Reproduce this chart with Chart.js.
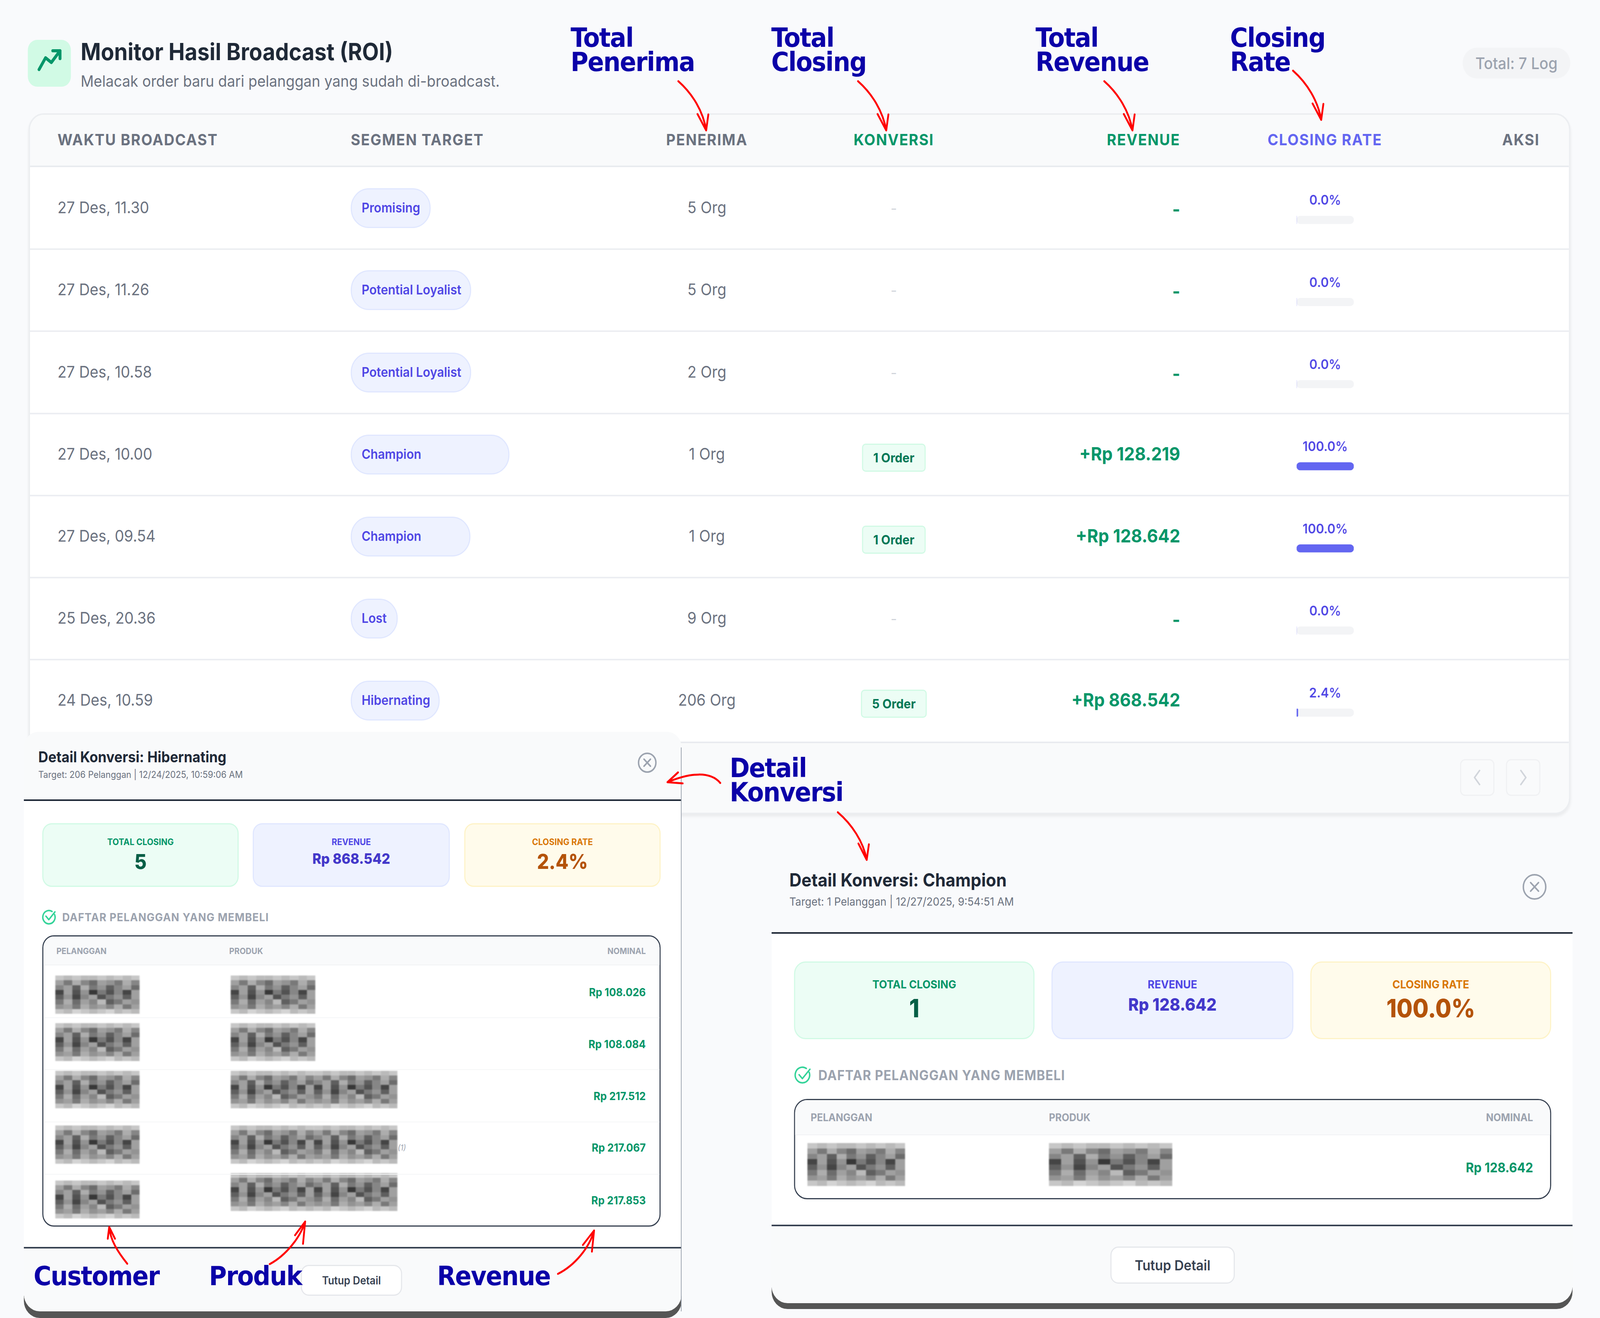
<!DOCTYPE html>
<html lang="id">
<head>
<meta charset="utf-8">
<title>Monitor Hasil Broadcast (ROI)</title>
<script src="https://cdn.jsdelivr.net/npm/chart.js@4/dist/chart.umd.min.js"></script>
<style>
  html, body { margin: 0; padding: 0; overflow: hidden; background: #f9fafc; }
  #page { position: absolute; left: 0; top: 0; width: 4425px; height: 3375px; overflow: hidden; background: #f9fafc; font-family: Inter, sans-serif; transform-origin: 0 0; }
  .box { position: absolute; box-sizing: border-box; }
  .txt { position: absolute; white-space: nowrap; line-height: 1; }
  .note { position: absolute; white-space: pre; font-family: "DejaVu Sans", sans-serif; font-weight: 700; color: #0b00a8; font-size: 67px; line-height: 62px; letter-spacing: -2px; z-index: 30; }
  .mosaic { position: absolute; display: grid; filter: blur(1.5px); }
  #rateWrap { position: absolute; left: 3586px; top: 458px; width: 158px; height: 1472px; z-index: 5; }
  svg { position: absolute; left: 0; top: 0; z-index: 40; pointer-events: none; }
</style>
</head>
<body>
<div id="page"><div id="rateWrap"><canvas id="rateChart" width="158" height="1472"></canvas></div></div>
<script>
// data tabel utama
const waktu = ['27 Des, 11.30', '27 Des, 11.26', '27 Des, 10.58', '27 Des, 10.00', '27 Des, 09.54', '25 Des, 20.36', '24 Des, 10.59'];
const segmen = ['Promising', 'Potential Loyalist', 'Potential Loyalist', 'Champion', 'Champion', 'Lost', 'Hibernating'];
const penerima = [5, 5, 2, 1, 1, 9, 206];
const konversi = [0, 0, 0, 1, 1, 0, 5];
const revenue = ['-', '-', '-', '+Rp 128.219', '+Rp 128.642', '-', '+Rp 868.542'];
const closingRate = [0, 0, 0, 100, 100, 0, 2.4];
const closingTrack = [100, 100, 100, 100, 100, 100, 100];
const kolom = ['WAKTU BROADCAST', 'SEGMEN TARGET', 'PENERIMA', 'KONVERSI', 'REVENUE', 'CLOSING RATE', 'AKSI'];

// data detail konversi
const nominalHibernating = ['Rp 108.026', 'Rp 108.084', 'Rp 217.512', 'Rp 217.067', 'Rp 217.853'];
const nominalChampion = ['Rp 128.642'];

const pillWidth = [221, 333, 333, 439, 331, 130, 246];

// jendela render bisa lebih kecil dari 4425, jadi halaman diskalakan biar tetap pas
const page = document.getElementById('page');
page.style.transform = `scale(${window.innerWidth / 4425},${window.innerHeight / 3375})`;

function box(x, y, w, h, css, z) {
  const el = document.createElement('div');
  el.className = 'box';
  el.style.cssText = `left:${x}px;top:${y}px;width:${w}px;height:${h}px;z-index:${z || 1};${css || ''}`;
  page.appendChild(el);
  return el;
}

// y = tengah teks, align: l / c / r terhadap x
function text(str, x, y, size, weight, color, align, z, extra) {
  const el = document.createElement('div');
  el.className = 'txt';
  el.textContent = str;
  const tx = align === 'c' ? '-50%' : align === 'r' ? '-100%' : '0';
  el.style.cssText = `left:${x}px;top:${y}px;font-size:${size}px;font-weight:${weight};color:${color};transform:translate(${tx},-50%);z-index:${z || 2};${extra || ''}`;
  page.appendChild(el);
  return el;
}

function note(str, x, y) {
  const el = document.createElement('div');
  el.className = 'note';
  el.textContent = str;
  el.style.left = x + 'px';
  el.style.top = y + 'px';
  page.appendChild(el);
}

// blok sensor, cuma hiasan
const pola = [
  'dcdccdcdcd',
  'a7b86a97b8',
  '8a5b7958a6',
  '3a4927483a',
  '5938a4795a',
  '7b6a8c57a9',
  '9a7b9a8b7a',
  'dcedcdecdc'
];
function mosaic(x, y, w, h, z, dobel) {
  const cols = dobel ? 20 : 10;
  const el = document.createElement('div');
  el.className = 'mosaic';
  el.style.cssText = `left:${x}px;top:${y}px;width:${w}px;height:${h}px;z-index:${z};grid-template-columns:repeat(${cols},1fr);grid-template-rows:repeat(8,1fr);`;
  pola.forEach(baris => {
    const isi = dobel ? baris + baris : baris;
    for (const c of isi) {
      const g = 30 + parseInt(c, 16) * 13;
      const cell = document.createElement('div');
      cell.style.background = `rgb(${g},${g},${g})`;
      el.appendChild(cell);
    }
  });
  page.appendChild(el);
}

// header halaman
box(77, 102, 119, 120, 'background:#d1fae5;border-radius:26px;');
text('Monitor Hasil Broadcast (ROI)', 223, 132, 60, 700, '#1f2937', 'l');
text('Melacak order baru dari pelanggan yang sudah di-broadcast.', 223, 208, 40, 400, '#6b7280', 'l');
box(4045, 122, 298, 79, 'background:#f3f4f6;border-radius:40px;');
text('Total: 7 Log', 4194, 162, 41, 500, '#9ca3af', 'c');

// kartu tabel
box(79, 290, 4264, 1795, 'background:#fff;border:4px solid #eceef1;border-radius:42px;box-shadow:0 6px 8px rgba(0,0,0,.06);');
box(83, 294, 4256, 134, 'background:#f9fafb;border-bottom:4px solid #e9ebef;border-radius:38px 38px 0 0;');
box(83, 1899, 4256, 182, 'background:#f9fafb;border-radius:0 0 38px 38px;border-top:4px solid #e9ebef;');

const headX = [159, 970, 1955, 2472, 3264, 3664, 4258];
const headAlign = ['l', 'l', 'c', 'c', 'r', 'c', 'r'];
const headColor = ['#6b7280', '#6b7280', '#6b7280', '#059669', '#059669', '#6366f1', '#6b7280'];
kolom.forEach((k, i) => {
  text(k, headX[i], 358, 40, 700, headColor[i], headAlign[i], 3, 'letter-spacing:2px;');
});

const rowTop = 428, rowH = 210.2;
waktu.forEach((w, i) => {
  const mid = rowTop + rowH * i + rowH / 2;
  if (i > 0) box(83, rowTop + rowH * i - 2, 4256, 4, 'background:#eceef2;');
  text(w, 159, mid - 2, 41, 400, '#6b7280', 'l');
  box(970, mid - 51, pillWidth[i], 102, 'background:#eef2ff;border:3px solid #e0e7ff;border-radius:50px;');
  text(segmen[i], 1000, mid, 33.5, 600, '#4f46e5', 'l');
  text(penerima[i] + ' Org', 1955, mid - 2, 41, 400, '#6b7280', 'c');
  if (konversi[i] > 0) {
    const w2 = konversi[i] === 5 ? 182 : 176;
    box(2472 - w2 / 2, mid - 28, w2, 72, 'background:#ecfdf5;border:3px solid #d1fae5;border-radius:10px;');
    text(konversi[i] + ' Order', 2472, mid + 8, 33, 700, '#047857', 'c', 3);
  } else {
    text('-', 2472, mid, 38, 400, '#d1d5db', 'c');
  }
  text(revenue[i], 3264, revenue[i] === '-' ? mid + 2 : mid - 3, 47, 700, '#059669', 'r', 3);
});

// tombol halaman
box(4038, 1944, 95, 94, 'background:#f9fafb;border:3px solid #f0f1f3;border-radius:14px;', 2);
box(4165, 1944, 95, 94, 'background:#f9fafb;border:3px solid #f0f1f3;border-radius:14px;', 2);

// modal detail
function modal(m) {
  const z = 10;
  box(m.x, m.top, m.w, m.bottom - m.top, `background:${m.headBg};border-radius:${m.radius}px ${m.radius}px 0 0;`, z);
  if (m.sideLine) box(m.x + m.w - 2, m.top + 40, 2, m.bandTop - m.top - 40, 'background:#9ca3af;', z + 3);
  box(m.x, m.bandTop - 40, m.w, m.bandBottom - m.bandTop + 40, 'background:#555;border-radius:0 0 44px 44px;', z);
  box(m.x, m.footY, m.w, m.bandTop - m.footY, 'background:#f9fafb;border-radius:0 0 44px 44px;', z);
  box(m.x, m.lineY, m.w, m.footY - m.lineY, 'background:#fff;border-top:4px solid #1f2937;border-bottom:4px solid #374151;', z);

  text(m.title, m.textX, m.titleY, m.titleSize, 700, '#1f2937', 'l', z + 1);
  text(m.sub, m.textX, m.subY, m.subSize, 400, '#6b7280', 'l', z + 1);

  const warna = [
    ['#ecfdf5', '#d1fae5', '#059669', '#065f46'],
    ['#eef2ff', '#e0e7ff', '#4f46e5', '#4338ca'],
    ['#fffbeb', '#fef3c7', '#d97706', '#b45309']
  ];
  m.cards.forEach((c, i) => {
    box(m.cardX[i], m.cardTop, m.cardW[i], m.cardH, `background:${warna[i][0]};border:3px solid ${warna[i][1]};border-radius:${m.cardR}px;`, z + 1);
    const cx = m.cardX[i] + m.cardW[i] / 2;
    text(c[0], cx, m.labelY, m.labelSize, 700, warna[i][2], 'c', z + 2);
    const big = i === 1 ? m.revSize : m.valSize;
    text(c[1], cx, i === 1 ? m.revY : m.valY, big, 800, warna[i][3], 'c', z + 2);
  });

  text('DAFTAR PELANGGAN YANG MEMBELI', m.secX, m.secY, m.secSize, 700, '#9ca3af', 'l', z + 1, 'letter-spacing:1.2px;');

  box(m.tabX, m.tabTop, m.tabW, m.tabBottom - m.tabTop, `background:#fff;border:3px solid #374151;border-radius:${m.tabR}px;overflow:hidden;`, z + 1);
  box(m.tabX + 3, m.tabTop + 3, m.tabW - 6, m.headBottom - m.tabTop - 3, `background:#f9fafb;border-bottom:2px solid #f1f2f4;border-radius:${m.tabR - 3}px ${m.tabR - 3}px 0 0;`, z + 1);
  text('PELANGGAN', m.colA, m.headY, m.headSize, 700, '#9ca3af', 'l', z + 2);
  text('PRODUK', m.colB, m.headY, m.headSize, 700, '#9ca3af', 'l', z + 2);
  text('NOMINAL', m.colC, m.headY, m.headSize, 700, '#9ca3af', 'r', z + 2);

  m.nominal.forEach((n, i) => {
    text(n, m.colC, m.nomY[i], m.nomSize, 700, '#059669', 'r', z + 2);
    const r = m.blur[i];
    mosaic(r[0], r[1], r[2], r[3], z + 2, false);
    mosaic(r[4], r[5], r[6], r[3], z + 2, r[7]);
    if (i > 0 && m.sep) box(m.tabX + 3, m.sep[i - 1], m.tabW - 6, 2, 'background:#f5f6f7;', z + 2);
  });

  box(m.btn[0], m.btn[1], m.btn[2], m.btn[3], 'background:#fff;border:3px solid #e5e7eb;border-radius:22px;', z + 1);
  text('Tutup Detail', m.btn[0] + m.btn[2] / 2, m.btn[1] + m.btn[3] / 2, m.btnSize, 600, '#374151', 'c', z + 2);
}

modal({
  x: 66, w: 1819, top: 1874, bottom: 2060, lineY: 2047, footY: 3197, bandTop: 3358, bandBottom: 3375, radius: 40, headBg: '#f9fafb', sideLine: true,
  title: 'Detail Konversi: Hibernating', textX: 106, titleY: 1938, titleSize: 38,
  sub: 'Target: 206 Pelanggan | 12/24/2025, 10:59:06 AM', subY: 1984, subSize: 24,
  cards: [['TOTAL CLOSING', '5'], ['REVENUE', 'Rp 868.542'], ['CLOSING RATE', '2.4%']],
  cardX: [117, 699, 1284], cardW: [543, 545, 543], cardTop: 2108, cardH: 163, cardR: 26,
  labelY: 2156, labelSize: 23, valY: 2207, valSize: 52, revY: 2198, revSize: 37,
  secX: 172, secY: 2348, secSize: 29,
  tabX: 117, tabW: 1710, tabTop: 2395, tabBottom: 3141, tabR: 32, headBottom: 2472, headY: 2435, headSize: 22,
  colA: 156, colB: 634, colC: 1786, nomSize: 28.5,
  nominal: nominalHibernating, nomY: [2541, 2674, 2807, 2939, 3074],
  sep: [2605, 2738, 2872, 3006],
  blur: [
    [153, 2498, 233, 98, 638, 2498, 234, false],
    [153, 2620, 233, 97, 638, 2620, 234, false],
    [153, 2742, 233, 96, 638, 2742, 461, true],
    [153, 2882, 233, 98, 638, 2882, 461, true],
    [153, 3023, 233, 97, 638, 3004, 461, true]
  ],
  btn: [832, 3239, 280, 79], btnSize: 28
});
text('(1)', 1100, 2939, 20, 400, '#9ca3af', 'l', 13, 'font-style:italic;');

modal({
  x: 2134, w: 2215, top: 2100, bottom: 2400, lineY: 2387, footY: 3140, bandTop: 3337, bandBottom: 3352, radius: 0, headBg: '#f9fafc', sideLine: false,
  title: 'Detail Konversi: Champion', textX: 2183, titleY: 2253, titleSize: 46.5,
  sub: 'Target: 1 Pelanggan | 12/27/2025, 9:54:51 AM', subY: 2308, subSize: 29,
  cards: [['TOTAL CLOSING', '1'], ['REVENUE', 'Rp 128.642'], ['CLOSING RATE', '100.0%']],
  cardX: [2196, 2908, 3624], cardW: [665, 669, 666], cardTop: 2462, cardH: 199, cardR: 32,
  labelY: 2520, labelSize: 29, valY: 2582, valSize: 64, revY: 2572, revSize: 44,
  secX: 2263, secY: 2753, secSize: 35,
  tabX: 2196, tabW: 2094, tabTop: 2814, tabBottom: 3071, tabR: 36, headBottom: 2907, headY: 2861, headSize: 27,
  colA: 2242, colB: 2901, colC: 4240, nomSize: 34,
  nominal: nominalChampion, nomY: [2990],
  blur: [[2233, 2927, 270, 110, 2901, 2927, 341, false]],
  btn: [3071, 3192, 344, 95], btnSize: 36
});

// label anotasi
note('Total\nPenerima', 1578, 66);
note('Total\nClosing', 2133, 66);
note('Total\nRevenue', 2864, 66);
note('Closing\nRate', 3402, 66);
note('Detail\nKonversi', 2018, 1936);
note('Customer', 93, 3237);
note('Produk', 578, 3237);
note('Revenue', 1209, 3237);

// panah merah + ikon kecil
const svgBody = `
<g fill="none" stroke="#f00" stroke-width="5" stroke-linecap="round" stroke-linejoin="round">
  <path d="M1876 208C1915 240 1945 285 1953 334M1929 292L1953 334L1959 293"/>
  <path d="M2373 208C2412 240 2442 285 2451 334M2427 292L2451 334L2457 293"/>
  <path d="M3054 208C3093 240 3123 285 3132 334M3108 292L3132 334L3138 293"/>
  <path d="M3576 181C3615 213 3645 258 3654 307M3630 265L3654 307L3660 266"/>
  <path d="M1992 2005C1965 1975 1910 1978 1846 2003M1875 1978L1846 2003L1888 2006"/>
  <path d="M2317 2080C2355 2110 2388 2155 2397 2202M2374 2160L2397 2202L2403 2162"/>
  <path d="M352 3236C325 3205 305 3175 302 3142M298 3172L302 3142L318 3172"/>
  <path d="M746 3237C790 3215 830 3170 844 3128M816 3163L844 3128L838 3185"/>
  <path d="M1543 3262C1590 3240 1630 3195 1643 3151M1612 3188L1643 3151L1637 3205"/>
</g>
<g fill="none" stroke="#059669" stroke-width="8" stroke-linecap="round" stroke-linejoin="round">
  <path d="M108 178L126 148L142 160L166 130M146 130H166V150"/>
</g>
<g fill="none" stroke="#d1d5db" stroke-width="4" stroke-linecap="round" stroke-linejoin="round">
  <path d="M4092 1973L4078 1991L4092 2009M4206 1973L4220 1991L4206 2009"/>
</g>
<g fill="none" stroke="#9ca3af" stroke-width="4" stroke-linecap="round">
  <circle cx="1790" cy="1953" r="24"/><path d="M1781 1944L1799 1962M1799 1944L1781 1962"/>
  <circle cx="4244" cy="2271" r="31"/><path d="M4233 2260L4255 2282M4255 2260L4233 2282"/>
</g>
<g fill="none" stroke="#34d399" stroke-width="4" stroke-linecap="round" stroke-linejoin="round">
  <path d="M151 2342A17 17 0 1 1 144 2334M127 2346L135 2355L152 2335"/>
  <path d="M2238 2746A20 20 0 1 1 2230 2736M2210 2752L2219 2762L2240 2738"/>
</g>`;
page.insertAdjacentHTML('beforeend', `<svg width="4425" height="3375" viewBox="0 0 4425 3375">${svgBody}</svg>`);

// progress closing rate digambar lewat chart
const rateLabels = {
  id: 'rateLabels',
  afterDatasetsDraw(chart) {
    const ctx = chart.ctx;
    const x = chart.scales.x.getPixelForValue(50);
    ctx.save();
    ctx.font = '600 34px Inter, sans-serif';
    ctx.fillStyle = '#4f46e5';
    ctx.textAlign = 'center';
    ctx.textBaseline = 'middle';
    closingRate.forEach((v, i) => {
      ctx.fillText(v.toFixed(1) + '%', x, chart.scales.y.getPixelForValue(i) - 49);
    });
    ctx.restore();
  }
};

new Chart(document.getElementById('rateChart'), {
  type: 'bar',
  data: {
    labels: waktu,
    datasets: [
      { label: 'Closing Rate', data: closingRate, backgroundColor: '#6366f1', order: 1, borderRadius: 10, borderSkipped: false },
      { label: 'Track', data: closingTrack, backgroundColor: '#f3f4f6', order: 2, borderRadius: 10, borderSkipped: false }
    ]
  },
  options: {
    indexAxis: 'y',
    responsive: false,
    devicePixelRatio: 1,
    animation: false,
    barThickness: 20,
    grouped: false,
    scales: {
      x: { display: false, min: 0, max: 100 },
      y: { display: false }
    },
    plugins: { legend: { display: false }, tooltip: { enabled: false } }
  },
  plugins: [rateLabels]
});
</script>
</body>
</html>
